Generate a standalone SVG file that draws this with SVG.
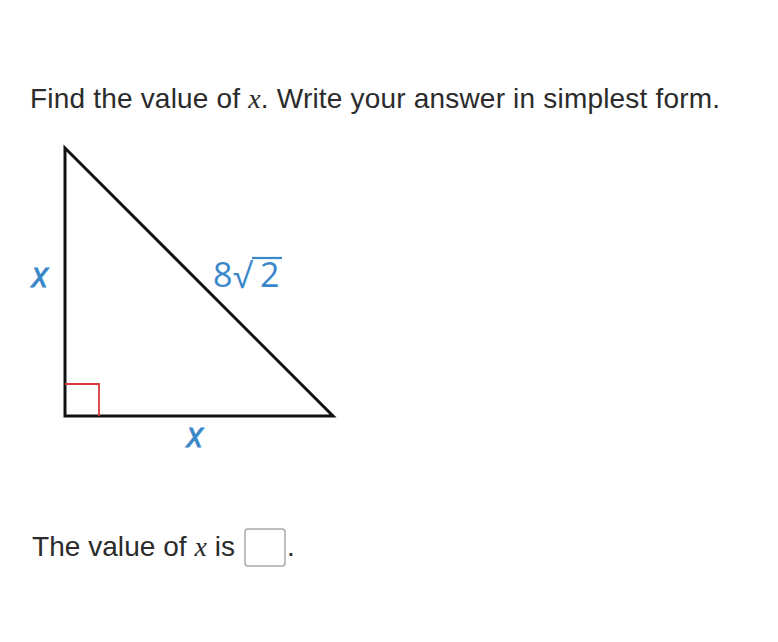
<svg xmlns="http://www.w3.org/2000/svg" width="778" height="642" viewBox="0 0 778 642">
<style>
.q{font-family:"Liberation Sans",Arial,sans-serif;font-size:28px;fill:#2b2b2b}
.m{font-family:"Liberation Serif","Times New Roman",serif;font-style:italic}
.lbl{font-family:"Open Sans","DejaVu Sans",sans-serif;font-size:34px;fill:#3a87c9}
.v{font-style:italic;stroke:#3a87c9;stroke-width:0.9}
.edge{stroke:#111;stroke-width:3;fill:none;stroke-linejoin:miter}
</style>
<rect width="778" height="642" fill="#fff"/>
<g id="question">
<text class="q" x="30" y="108" textLength="690" lengthAdjust="spacing">Find the value of <tspan class="m">x</tspan>. Write your answer in simplest form.</text>
</g>
<g id="triangle">
<polygon class="edge" points="65,148 65,416 333,416"/>
<polyline points="65,384 99,384 99,416" fill="none" stroke="#d9393b" stroke-width="1.8"/>
</g>
<g id="labels">
<text class="lbl v" x="40" y="287" text-anchor="middle">x</text>
<text class="lbl" x="213" y="287">8</text>
<text class="lbl" x="233" y="288" font-size="36">√</text>
<text class="lbl" x="260" y="287">2</text>
<line x1="252" y1="258" x2="282" y2="258" stroke="#3a87c9" stroke-width="2.2"/>
<text class="lbl v" x="195" y="447" text-anchor="middle">x</text>
</g>
<g id="answer">
<text class="q" x="32" y="556" textLength="203" lengthAdjust="spacing">The value of <tspan class="m">x</tspan> is</text>
<rect x="245" y="529" width="40" height="37" rx="3" fill="#fff" stroke="#aaa" stroke-width="1.5"/>
<text class="q" x="287" y="556">.</text>
</g>
</svg>
